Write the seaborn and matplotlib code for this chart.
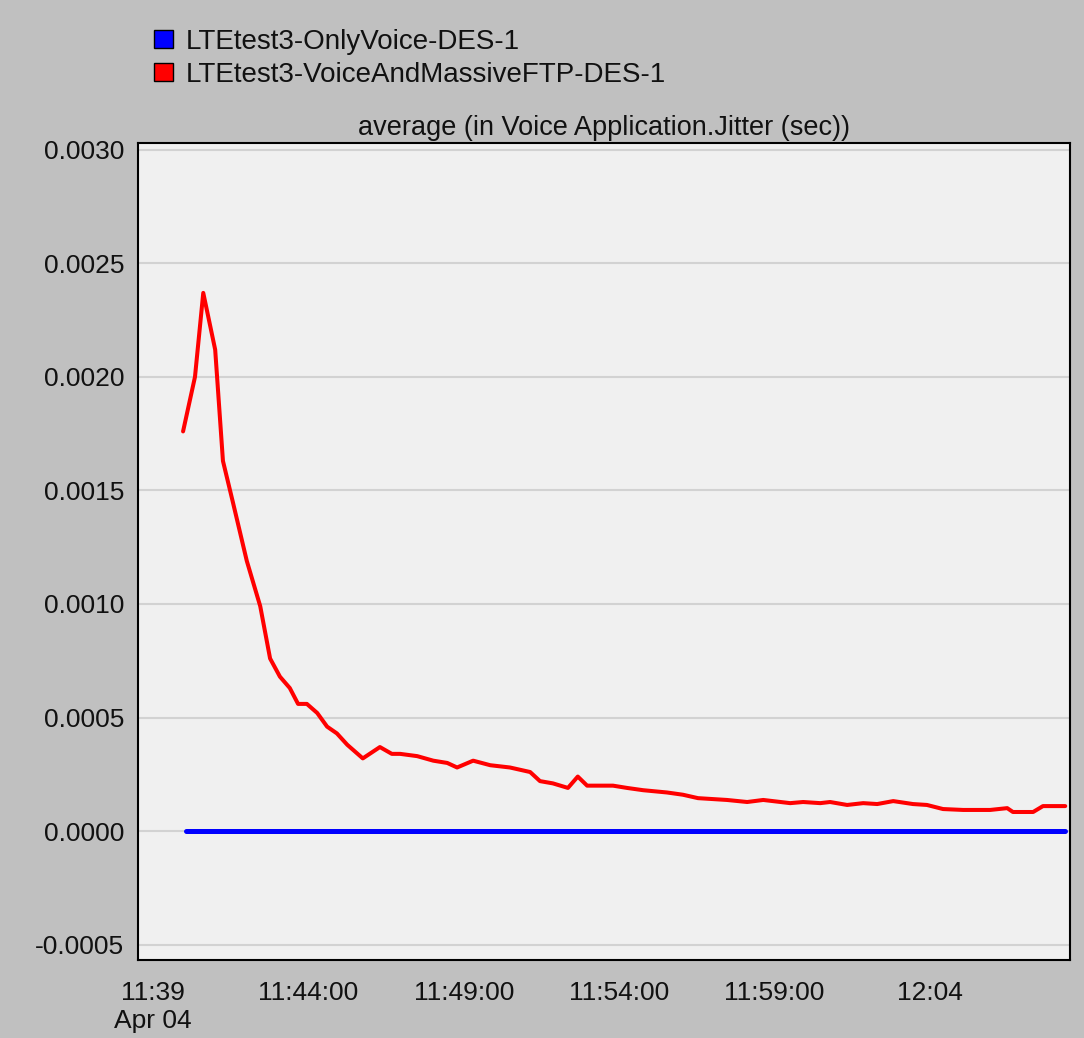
import matplotlib
matplotlib.use("Agg")
import matplotlib.pyplot as plt
from matplotlib.patches import Patch
import seaborn as sns
import pandas as pd

series_names = ["LTEtest3-OnlyVoice-DES-1", "LTEtest3-VoiceAndMassiveFTP-DES-1"]

ftp_times = ["11:39:58", "11:40:21", "11:40:37", "11:41:00", "11:41:15", "11:41:34",
             "11:42:01", "11:42:27", "11:42:46", "11:43:05", "11:43:24", "11:43:40",
             "11:43:57", "11:44:17", "11:44:36", "11:44:55", "11:45:15", "11:45:45",
             "11:46:18", "11:46:41", "11:46:57", "11:47:30", "11:48:01", "11:48:28",
             "11:48:47", "11:49:18", "11:49:51", "11:50:29", "11:51:08", "11:51:27",
             "11:51:52", "11:52:21", "11:52:40", "11:52:58", "11:53:48", "11:54:15",
             "11:54:46", "11:55:32", "11:56:03", "11:56:32", "11:57:28", "11:58:07",
             "11:58:38", "11:59:30", "11:59:55", "12:00:28", "12:00:47", "12:01:20",
             "12:01:51", "12:02:18", "12:02:49", "12:03:27", "12:03:54", "12:04:25",
             "12:05:04", "12:05:56", "12:06:29", "12:06:40", "12:07:19", "12:07:38",
             "12:08:21"]
ftp_values = [0.00176, 0.00200, 0.00237, 0.00212, 0.00163, 0.00145,
              0.00119, 0.00099, 0.00076, 0.00068, 0.00063, 0.00056,
              0.00056, 0.00052, 0.00046, 0.00043, 0.00038, 0.00032,
              0.00037, 0.00034, 0.00034, 0.00033, 0.00031, 0.00030,
              0.00028, 0.00031, 0.00029, 0.00028, 0.00026, 0.00022,
              0.00021, 0.00019, 0.00024, 0.00020, 0.00020, 0.00019,
              0.00018, 0.00017, 0.00016, 0.000145, 0.000137, 0.000128,
              0.000137, 0.000123, 0.000128, 0.000123, 0.000128, 0.000115,
              0.000123, 0.000119, 0.000132, 0.000119, 0.000115, 0.000097,
              0.000093, 0.000093, 0.000101, 0.000084, 0.000084, 0.000110,
              0.000110]

voice_times = ["11:40:04", "11:45:00", "11:50:00", "11:55:00", "12:00:00", "12:05:00", "12:08:21"]
voice_values = [0.0, 0.0, 0.0, 0.0, 0.0, 0.0, 0.0]

y_ticks = [-0.0005, 0.0, 0.0005, 0.0010, 0.0015, 0.0020, 0.0025, 0.0030]
y_tick_labels = ["-0.0005", "0.0000", "0.0005", "0.0010", "0.0015", "0.0020", "0.0025", "0.0030"]
x_tick_times = ["11:39:00", "11:44:00", "11:49:00", "11:54:00", "11:59:00", "12:04:00"]
x_tick_labels = ["11:39\nApr 04", "11:44:00", "11:49:00", "11:54:00", "11:59:00", "12:04"]
title = "average (in Voice Application.Jitter (sec))"

DAY = "2024-04-04 "
def ts(lst):
    return pd.to_datetime([DAY + t for t in lst])

df = pd.concat([
    pd.DataFrame({"time": ts(voice_times), "value": voice_values, "series": series_names[0]}),
    pd.DataFrame({"time": ts(ftp_times), "value": ftp_values, "series": series_names[1]}),
])

sns.set_style("white")
plt.rcParams["font.family"] = ["Liberation Sans", "DejaVu Sans"]

FS = 19
fig = plt.figure(figsize=(10.84, 10.38), dpi=100)
fig.patch.set_facecolor("#c0c0c0")
ax = fig.add_axes([0.1273, 0.0751, 0.8597, 0.7871])
ax.set_facecolor("#f0f0f0")

colors = {series_names[0]: "#0000ff", series_names[1]: "#ff0000"}
sns.lineplot(data=df[df.series == series_names[0]], x="time", y="value", color=colors[series_names[0]],
             linewidth=3.6, ax=ax, legend=False)
sns.lineplot(data=df[df.series == series_names[1]], x="time", y="value", color=colors[series_names[1]],
             linewidth=2.9, ax=ax, legend=False)

x0 = pd.Timestamp(DAY + "11:39:00") - pd.Timedelta(seconds=29)
x1 = pd.Timestamp(DAY + "12:08:30")
ax.set_xlim(x0, x1)
ax.set_ylim(-0.000568, 0.00303)

ax.set_yticks(y_ticks)
ax.set_yticklabels(y_tick_labels)
ax.set_xticks(ts(x_tick_times))
ax.set_xticklabels(x_tick_labels, linespacing=1.2)

ax.grid(axis="y", color="#d2d2d2", linewidth=1.5)
ax.grid(axis="x", visible=False)
ax.set_axisbelow(True)

for s in ax.spines.values():
    s.set_color("black")
    s.set_linewidth(1.5)

ax.tick_params(axis="y", direction="out", length=7, width=1.5, color="black", labelsize=FS, pad=3,
               labelcolor="#111111")
ax.tick_params(axis="x", direction="out", length=9, width=1.5, color="black", labelsize=FS, pad=6,
               labelcolor="#111111")
ax.set_xlabel("")
ax.set_ylabel("")
ax.set_title(title, fontsize=FS + 0.5, pad=6, color="#111111")

handles = [Patch(facecolor=colors[n], edgecolor="black", linewidth=1.0) for n in series_names]
fig.legend(handles, series_names, loc="upper left", bbox_to_anchor=(0.132, 0.983),
           frameon=False, fontsize=FS + 1, handlelength=0.67, handleheight=0.67,
           handletextpad=0.45, labelspacing=0.25, borderaxespad=0, labelcolor="#111111")

fig.savefig("out.png", dpi=100, facecolor=fig.get_facecolor())
